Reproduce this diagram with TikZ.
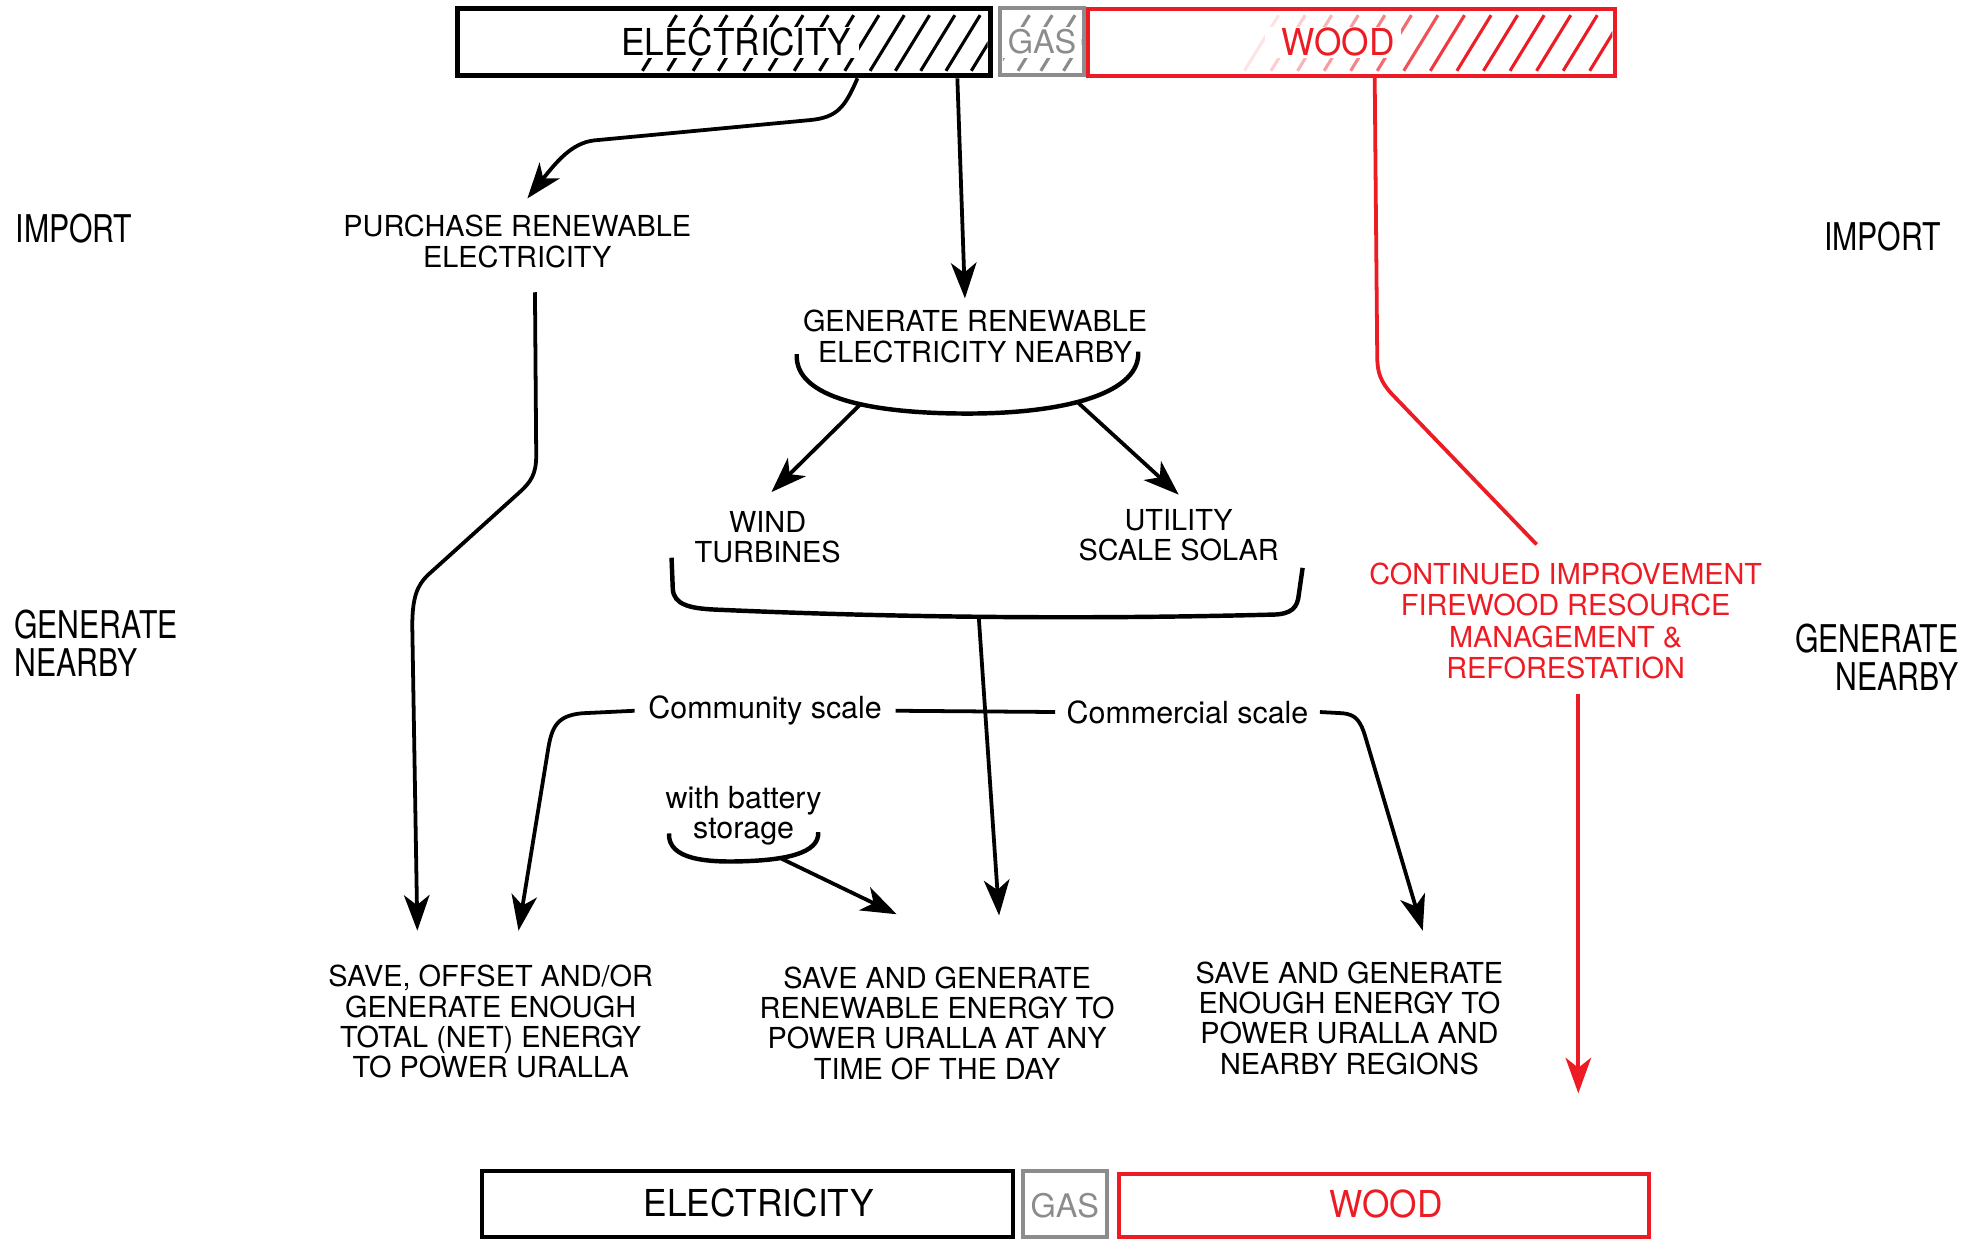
\documentclass[tikz,border=0pt]{standalone}
\usepackage{fontspec}
\setmainfont{TeX Gyre Heros}
\newfontfamily\sidefont{TeX Gyre Heros}[FakeStretch=0.79]
\newfontfamily\barfont{TeX Gyre Heros}[FakeStretch=0.95]
\usepackage{xcolor}
\usetikzlibrary{arrows.meta,positioning,fit,calc}
\definecolor{woodred}{RGB}{237,28,36}
\definecolor{gasgray}{RGB}{140,140,140}

\begin{document}
\begin{tikzpicture}[
    x=0.02cm, y=-0.02cm,
    >={Stealth[length=16pt,width=11.5pt,inset=4.5pt]},
    txt/.style={font=\fontsize{13}{13.66}\selectfont,align=center,inner sep=0pt},
    smalltxt/.style={font=\fontsize{13.7}{13.66}\selectfont,align=center,inner sep=0pt},
    side/.style={font=\sidefont\fontsize{17.2}{17.1}\selectfont,inner sep=0pt},
    bartxt/.style={font=\barfont\fontsize{16.7}{17}\selectfont,inner sep=0pt},
    gastxt/.style={font=\fontsize{14.6}{15}\selectfont,text=gasgray,inner sep=0pt},
    elecbox/.style={draw=black,line width=2.2pt,inner sep=0pt},
    gasbox/.style={draw=gasgray,line width=1.8pt,inner sep=0pt},
    woodbox/.style={draw=woodred,line width=1.8pt,inner sep=0pt},
    hatch/.style={line width=1.4pt},
    link/.style={->,line width=1.7pt},
    brack/.style={line width=2pt},
    redlink/.style={line width=1.7pt,draw=woodred},
]
\useasboundingbox (0,0) rectangle (1568,980);

% ---- top bar ----
\node[elecbox,fit={(362,7)(783,60)}] (elecT) {};
\begin{scope}
  \clip (364,9) rectangle (781,58);
  \foreach \b in {508,528,...,768}
    \draw[hatch] (\b,56) -- (\b+27,12);
\end{scope}
\fill[white] (484,21) rectangle (679,46);
\node[bartxt] (elecTtxt) at (582,33) {ELECTRICITY};

\node[gasbox,fit={(791,6)(857,59)}] (gasT) {};
\begin{scope}
  \clip (793,8) rectangle (855,57);
  \foreach \b in {787,805,823,841}
    \draw[hatch,gasgray] (\b,56) -- (\b+27,12);
\end{scope}
\fill[white] (793,21) rectangle (855,46);
\node[gastxt] (gasTtxt) at (824,33) {GAS};

\node[woodbox,fit={(860,7)(1277,60)}] (woodT) {};
\begin{scope}
  \clip (862,9) rectangle (1275,58);
  \foreach \b in {984,1005,...,1257} {
    \pgfmathsetmacro\op{min(1,max(0.12,(\b-965)/190))}
    \draw[hatch,woodred,opacity=\op] (\b,56) -- (\b+27,12);
  }
\end{scope}
\fill[white] (1000,21) rectangle (1108,46);
\node[bartxt,text=woodred] (woodTtxt) at (1058,33) {WOOD};

% ---- bottom bar ----
\node[elecbox,line width=2pt,fit={(381,926)(801,978)}] (elecB) {};
\node[bartxt] (elecBtxt) at (600,951) {ELECTRICITY};
\node[gasbox,fit={(809,926)(875,978)}] (gasB) {};
\node[gastxt] (gasBtxt) at (842,953) {GAS};
\node[woodbox,fit={(885,928)(1304,978)}] (woodB) {};
\node[bartxt,text=woodred] (woodBtxt) at (1096,952) {WOOD};

% ---- side labels ----
\node[side,anchor=west] (impL) at (12,181) {IMPORT};
\node[side,anchor=east] (impR) at (1535,187) {IMPORT};
\node[side,anchor=west,align=left] (genL) at (11,509) {GENERATE\\NEARBY};
\node[side,anchor=east,align=right] (genR) at (1549,520) {GENERATE\\NEARBY};

% ---- options ----
\node[txt] (purch) at (409,191) {PURCHASE RENEWABLE\\ELECTRICITY};
\node[txt] (gre) at (771,266) {GENERATE RENEWABLE\\ELECTRICITY NEARBY};
\node[txt] (wind) at (607,425) {WIND\\TURBINES};
\node[txt] (solar) at (932,423) {UTILITY\\SCALE SOLAR};
\node[smalltxt,inner sep=6pt] (comm) at (605,562) {Community scale};
\node[smalltxt,inner sep=5pt] (commer) at (939,563) {Commercial scale};
\node[smalltxt] (batt) at (588,645) {with battery\\storage};
\node[txt,text=woodred,font=\fontsize{13}{14.2}\selectfont] (firewood) at (1238,491)
  {CONTINUED IMPROVEMENT\\FIREWOOD RESOURCE\\MANAGEMENT \&\\REFORESTATION};

% ---- outcomes ----
\node[txt] (save1) at (388,808) {SAVE, OFFSET AND/OR\\GENERATE ENOUGH\\TOTAL (NET) ENERGY\\TO POWER URALLA};
\node[txt] (save2) at (741,809) {SAVE AND GENERATE\\RENEWABLE ENERGY TO\\POWER URALLA AT ANY\\TIME OF THE DAY};
\node[txt] (save3) at (1067,805) {SAVE AND GENERATE\\ENOUGH ENERGY TO\\POWER URALLA AND\\NEARBY REGIONS};

% ---- brackets ----
\draw[brack] (630,280) .. controls (628,315) and (690,327) .. (765,327)
  .. controls (845,327) and (902,310) .. (900,278);
\coordinate (greL) at (680,320);
\coordinate (greR) at (852,318);
\draw[brack] (531,441) -- (532,466) .. controls (533,478) and (545,481) .. (565,482)
  .. controls (700,488) and (850,490) .. (1005,486)
  .. controls (1022,486) and (1026,480) .. (1027,470) -- (1030,449);
\coordinate (techB) at (774,489);
\draw[brack] (529,659) .. controls (528,680) and (560,682) .. (588,681)
  .. controls (620,680) and (648,675) .. (647,658);
\coordinate (battB) at (618,679);

% ---- electricity links ----
\draw[link] (678,0 |- elecT.south) .. controls (668,85) and (662,93) .. (640,95)
  -- (470,111) .. controls (452,113) and (440,128) .. ($(purch.north)+(8,-13)$);
\draw[link] (757,0 |- elecT.south) -- ($(gre.north)+(-8,-9)$);
\draw[link] ($(purch.south)+(14,19)$) -- (424,360) .. controls (424,375) and (420,381) .. (410,390)
  -- (338,455) .. controls (330,463) and (326,472) .. (326,495) -- ($(save1.north)+(-58,-27)$);
\draw[link] (greL) -- ($(wind.north)+(3,-15)$);
\draw[link] (greR) -- ($(solar.north)+(0,-11)$);
\draw[link] (techB) -- ($(save2.north)+(49,-40)$);
\draw[line width=1.7pt] (comm.east) -- (commer.west);
\draw[link] (comm.west) -- (460,564) .. controls (440,566) and (436,575) .. (433,595)
  -- ($(save1.north)+(22,-27)$);
\draw[link] (commer.east) -- (1062,564) .. controls (1072,565) and (1076,570) .. (1080,584)
  -- ($(save3.north)+(58,-24)$);
\draw[link] (battB) -- ($(save2.north)+(-32,-41)$);

% ---- wood links ----
\draw[redlink] (1087,0 |- woodT.south) -- (1089,282) .. controls (1089,295) and (1092,302) .. (1100,311)
  -- ($(firewood.north)+(-23,-14)$);
\draw[redlink,->] ($(firewood.south)+(10,11)$) -- ++(0,316);
\end{tikzpicture}
\end{document}
